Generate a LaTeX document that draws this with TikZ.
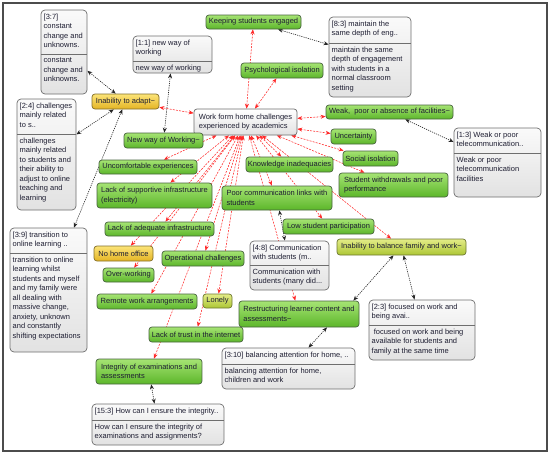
\documentclass[tikz,border=0pt]{standalone}
\usepackage{fontspec}
\setmainfont{Liberation Sans}
\usetikzlibrary{arrows.meta,backgrounds,calc}
\definecolor{gtop}{RGB}{166,228,116}
\definecolor{gbot}{RGB}{92,182,42}
\definecolor{gdraw}{RGB}{72,100,62}
\definecolor{ytop}{RGB}{252,228,120}
\definecolor{ybot}{RGB}{228,180,36}
\definecolor{ydraw}{RGB}{130,110,40}
\definecolor{otop}{RGB}{228,236,136}
\definecolor{obot}{RGB}{172,198,52}
\definecolor{odraw}{RGB}{110,120,50}
\definecolor{ntop}{RGB}{250,250,250}
\definecolor{nbot}{RGB}{226,226,226}
\definecolor{ndraw}{RGB}{110,110,110}
\definecolor{txt}{RGB}{30,30,50}
\definecolor{redl}{RGB}{255,40,40}
\newcommand\mytilde{\textasciitilde}
\tikzset{
  basebox/.style={rounded corners=3pt, line width=0.7pt, inner sep=1pt,
    font=\fontsize{7.5}{9.5}\selectfont, text=txt, align=left},
  gnode/.style={basebox, draw=gdraw, top color=gtop, bottom color=gbot},
  ynode/.style={basebox, draw=ydraw, top color=ytop, bottom color=ybot},
  onode/.style={basebox, draw=odraw, top color=otop, bottom color=obot},
  centnode/.style={basebox, draw=ndraw, top color=white, bottom color=nbot},
  notebox/.style={rounded corners=4pt, draw=ndraw, line width=0.7pt,
    top color=ntop, bottom color=nbot, inner sep=0pt},
  notesep/.style={draw=ndraw, line width=0.6pt},
  notetext/.style={font=\fontsize{7.5}{9.5}\selectfont, text=txt, align=left, inner sep=2pt},
  redarr/.style={draw=redl, line width=0.55pt, dash pattern=on 2pt off 1.2pt,
    {Stealth[length=5pt,width=4pt]}-{Stealth[length=5pt,width=4pt]}},
  blkarr/.style={draw=black!85, line width=0.6pt, dash pattern=on 1.2pt off 1pt,
    {Stealth[length=5pt,width=4pt]}-{Stealth[length=5pt,width=4pt]}},
}
% style, name, left, top, right, bottom, text
\newcommand\mkbox[7]{\node[#1, minimum width={#5-#3}, minimum height={#6-#4}] (#2) at ({(#3+#5)/2},{(#4+#6)/2}) {#7};}
% name, left, top, right, bottom, separator, header, body
\newcommand\mknote[8]{%
  \node[notebox, minimum width={#4-#2}, minimum height={#5-#3}] (#1) at ({(#2+#4)/2},{(#3+#5)/2}) {};
  \draw[notesep] ({#2},{#6}) -- ({#4},{#6});
  \node[notetext, anchor=north west] (#1h) at ({#2+0.5},{#3+1.5}) {#7};
  \node[notetext, anchor=north west] (#1b) at ({#2+0.5},{#6+1.5}) {#8};}
\begin{document}
\begin{tikzpicture}[x=1pt,y=-1pt]
\useasboundingbox (0,0) rectangle (550,455);
\draw[line width=1.4pt, draw=black!70] (3,3) rectangle (547,451);

% note boxes
\mknote{n37}{41}{10}{87}{94}{54}{[3:7]\\constant\\change and\\unknowns.}{constant\\change and\\unknowns.}
\mknote{n11}{133}{36}{212}{73}{61}{[1:1] new way of\\working}{new way of working}
\mknote{n83}{329}{17}{411}{97}{43}{[8:3] maintain the\\same depth of eng..}{maintain the same\\depth of engagement\\with students in a\\normal classroom\\setting}
\mknote{n24}{17}{99}{76}{210}{134}{[2:4] challenges\\mainly related\\to s..}{challenges\\mainly related\\to students and\\their ability to\\adjust to online\\teaching and\\learning}
\mknote{n13}{454}{128}{541}{197}{153}{[1:3] Weak or poor\\telecommunication..}{Weak or poor\\telecommunication\\facilities}
\mknote{n48}{250}{241}{329}{290}{265}{[4:8] Communication\\with students (m..}{Communication with\\students (many did...}
\mknote{n39}{10}{228}{87}{352}{253}{[3:9] transition to\\online learning ..}{transition to online\\learning whilst\\students and myself\\and my family were\\all dealing with\\massive change,\\anxiety, unknown\\and constantly\\shifting expectations}
\mknote{n23}{369}{300}{475}{360}{325}{[2:3] focused on work and\\being avai..}{\ focused on work and being\\available for students and\\family at the same time}
\mknote{n310}{222}{348}{355}{389}{364}{[3:10] balancing attention for home, ..}{balancing attention for home,\\children and work}
\mknote{n153}{92}{404}{224}{445}{420}{[15:3] How can I ensure the integrity..}{How can I ensure the integrity of\\examinations and assignments?}

% central
\mkbox{centnode}{central}{194}{109}{297}{135}{Work form home challenges\\experienced by academics}

% theme nodes
\mkbox{gnode}{keep}{206}{15}{301}{29}{Keeping students engaged}
\mkbox{gnode}{psych}{241}{63}{323}{78}{Psychological isolation}
\mkbox{ynode}{adapt}{92}{94}{159}{109}{Inability to adapt\mytilde}
\mkbox{gnode}{weak}{326}{105}{453}{119}{Weak,\ \ poor or absence of facilities\mytilde}
\mkbox{gnode}{unc}{331}{129}{376}{144}{Uncertainty}
\mkbox{gnode}{nwow}{124}{133}{203}{148}{New way of Working\mytilde}
\mkbox{gnode}{social}{343}{151}{398}{166}{Social isolation}
\mkbox{gnode}{know}{246}{157}{333}{172}{Knowledge inadequacies}
\mkbox{gnode}{uncomf}{99}{160}{197}{174}{Uncomfortable experiences}
\mkbox{gnode}{withdr}{339}{173}{448}{197}{Student withdrawals and poor\\performance}
\mkbox{gnode}{supp}{97}{183}{212}{208}{Lack of supportive infrastructure\\(electricity)}
\mkbox{gnode}{poor}{222}{186}{332}{210}{Poor communication links with\\students}
\mkbox{gnode}{adeq}{105}{222}{214}{236}{Lack of adequate infrastructure}
\mkbox{gnode}{low}{283}{219}{374}{234}{Low student participation}
\mkbox{onode}{balance}{337}{239}{466}{255}{Inability to balance family and work\mytilde}
\mkbox{ynode}{nohome}{94}{246}{153}{261}{No home office}
\mkbox{gnode}{oper}{162}{251}{244}{266}{Operational challenges}
\mkbox{gnode}{over}{103}{268}{154}{282}{Over-working}
\mkbox{gnode}{remote}{97}{294}{197}{309}{Remote work arrangements}
\mkbox{onode}{lonely}{203}{294}{232}{308}{Lonely}
\mkbox{gnode}{restr}{239}{301}{359}{327}{Restructuring learner content and\\assessments\mytilde}
\mkbox{gnode}{trust}{149}{327}{243}{342}{Lack of trust in the internet}
\mkbox{gnode}{integ}{96}{359}{202}{384}{Integrity of examinations and\\assessments}

\begin{scope}[on background layer]
  \foreach \t in {keep,psych,adapt,weak,unc,social,withdr,know,uncomf,supp,poor,adeq,low,balance,nohome,oper,over,remote,lonely,restr,trust,integ}
    \draw[redarr] (central) -- (\t);
  \draw[blkarr] (n37) -- (adapt);
  \draw[blkarr] (n24) -- (adapt);
  \draw[blkarr] (n39) -- (adapt);
  \draw[blkarr] (n11) -- (nwow);
  \draw[blkarr] (n83) -- (keep);
  \draw[blkarr] (weak) -- (n13);
  \draw[blkarr] (poor) -- (n48);
  \draw[blkarr] ($(restr.north east)+(-6,0)$) -- ($(balance.south)+(-8,0)$);
  \draw[blkarr] ($(restr.south)+(28,0)$) -- ($(n310.north)+(20,0)$);
  \draw[blkarr] (balance) -- (n23);
  \draw[blkarr] (integ) -- (n153);
\end{scope}
\end{tikzpicture}
\end{document}
